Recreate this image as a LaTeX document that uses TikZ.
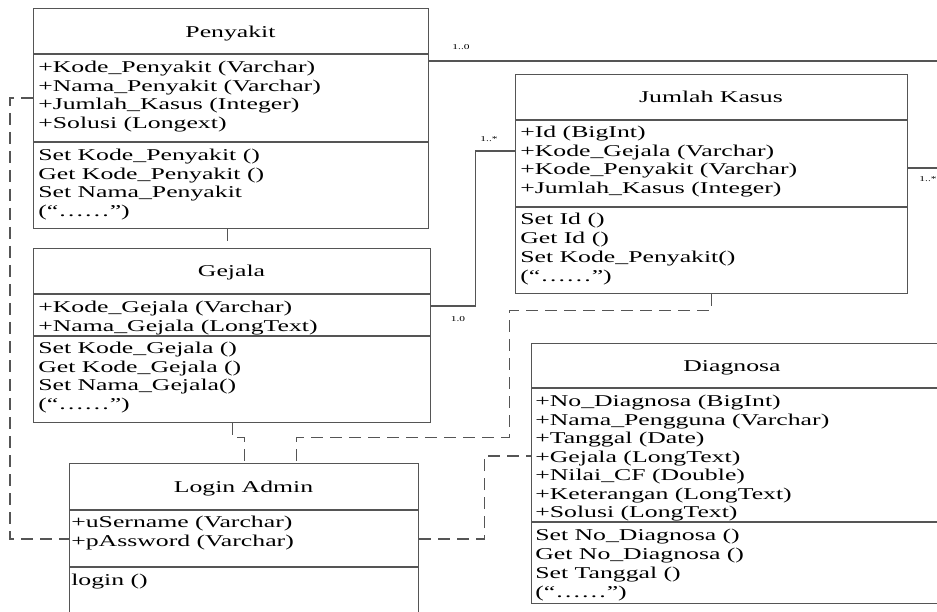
\documentclass[tikz,border=0pt]{standalone}
\usepackage{fontspec}
\setmainfont{Liberation Serif}
\usepackage{tikz}
\definecolor{umlline}{HTML}{555555}
\tikzset{
  classbox/.style={draw=umlline, line width=1.1pt, anchor=north west, inner sep=0pt},
  txt/.style={anchor=base west, inner sep=0pt, xscale=1.56, font=\fontsize{16.5}{18}\selectfont},
  ttl/.style={txt, anchor=base},
  mult/.style={anchor=base, inner sep=0pt, xscale=1.52, font=\fontsize{7.5}{8}\selectfont},
  assoc/.style={draw=umlline, line width=1.1pt},
  dep/.style={assoc, dash pattern=on 12pt off 7pt},
}

\begin{document}
\begin{tikzpicture}[x=1pt,y=-1pt]
	\useasboundingbox (0,0) rectangle (937,612);
	\clip (0,0) rectangle (937,612);

	% Penyakit
	\node[classbox, minimum width=395pt, minimum height=220pt] (penyakit) at (33,8) {};
	\draw[assoc] ([yshift=-46pt]penyakit.north west) -- ([yshift=-46pt]penyakit.north east);
	\draw[assoc] ([yshift=-134pt]penyakit.north west) -- ([yshift=-134pt]penyakit.north east);
	\node[ttl] (penyakitT) at (230.5,37.5) {Penyakit};
	\foreach \t [count=\i from 0] in {+Kode\_Penyakit (Varchar), +Nama\_Penyakit (Varchar), +Jumlah\_Kasus (Integer), +Solusi (Longext)}
		\node[txt] (pa\i) at (38,72.5+18.6*\i) {\t};
	\foreach \t [count=\i from 0] in {Set Kode\_Penyakit (), Get Kode\_Penyakit (), Set Nama\_Penyakit, {(“……”)}}
		\node[txt] (pm\i) at (38,160.5+18.6*\i) {\t};

	% Gejala
	\node[classbox, minimum width=397pt, minimum height=174pt] (gejala) at (33,248) {};
	\draw[assoc] ([yshift=-46pt]gejala.north west) -- ([yshift=-46pt]gejala.north east);
	\draw[assoc] ([yshift=-88pt]gejala.north west) -- ([yshift=-88pt]gejala.north east);
	\node[ttl] (gejalaT) at (231.5,276.5) {Gejala};
	\foreach \t [count=\i from 0] in {+Kode\_Gejala (Varchar), +Nama\_Gejala (LongText)}
		\node[txt] (ga\i) at (38,312.5+18.6*\i) {\t};
	\foreach \t [count=\i from 0] in {Set Kode\_Gejala (), Get Kode\_Gejala (), Set Nama\_Gejala(), {(“……”)}}
		\node[txt] (gm\i) at (38,353.5+18.6*\i) {\t};

	% Jumlah Kasus
	\node[classbox, minimum width=392pt, minimum height=219pt] (jumlah) at (515,74) {};
	\draw[assoc] ([yshift=-46pt]jumlah.north west) -- ([yshift=-46pt]jumlah.north east);
	\draw[assoc] ([yshift=-133pt]jumlah.north west) -- ([yshift=-133pt]jumlah.north east);
	\node[ttl] (jumlahT) at (711,102.5) {Jumlah Kasus};
	\foreach \t [count=\i from 0] in {+Id (BigInt), +Kode\_Gejala (Varchar), +Kode\_Penyakit (Varchar), +Jumlah\_Kasus (Integer)}
		\node[txt] (ja\i) at (520,137.5+18.6*\i) {\t};
	\foreach \t [count=\i from 0] in {Set Id (), Get Id (), Set Kode\_Penyakit(), {(“……”)}}
		\node[txt] (jm\i) at (520,224.5+18.9*\i) {\t};

	% Login Admin
	\node[classbox, minimum width=349pt, minimum height=210pt] (login) at (69,463) {};
	\draw[assoc] ([yshift=-47pt]login.north west) -- ([yshift=-47pt]login.north east);
	\draw[assoc] ([yshift=-104pt]login.north west) -- ([yshift=-104pt]login.north east);
	\node[ttl] (loginT) at (243.5,492.5) {Login Admin};
	\foreach \t [count=\i from 0] in {+uSername (Varchar), +pAssword (Varchar)}
		\node[txt] (la\i) at (71,527.5+18.6*\i) {\t};
	\node[txt] (lm0) at (71,585.5) {login ()};

	% Diagnosa
	\node[classbox, minimum width=412pt, minimum height=260pt] (diag) at (531,343) {};
	\draw[assoc] ([yshift=-45pt]diag.north west) -- ([yshift=-45pt]diag.north east);
	\draw[assoc] ([yshift=-179pt]diag.north west) -- ([yshift=-179pt]diag.north east);
	\node[ttl] (diagT) at (732,371.5) {Diagnosa};
	\foreach \t [count=\i from 0] in {+No\_Diagnosa (BigInt), +Nama\_Pengguna (Varchar), +Tanggal (Date), +Gejala (LongText), +Nilai\_CF (Double), +Keterangan (LongText), +Solusi (LongText)}
		\node[txt] (da\i) at (535,406.5+18.5*\i) {\t};
	\foreach \t [count=\i from 0] in {Set No\_Diagnosa (), Get No\_Diagnosa (), Set Tanggal (), {(“……”)}}
		\node[txt] (dm\i) at (535,540.5+18.9*\i) {\t};

	% associations
	\coordinate (outA) at (945,61);
	\coordinate (outB) at (945,168);
	\draw[assoc] ([yshift=-53pt]penyakit.north east) -- (outA);
	\draw[assoc] ([yshift=-94pt]jumlah.north east) -- (outB);
	\draw[assoc] ([yshift=-58pt]gejala.north east) -- ++(44,0) |- ([yshift=-77pt]jumlah.north west);
	\node[mult] (m1) at (461,50) {1..0};
	\node[mult] (m2) at (489,142) {1..*};
	\node[mult] (m3) at (458,321) {1.0};
	\node[mult] (m4) at (928,182) {1..*};

	% dependencies
	\draw[dep] ([yshift=-90pt]penyakit.north west) -- ++(-23,0) |- ([yshift=-76pt]login.north west);
	\draw[dep] ([xshift=-4pt]penyakit.south) -- ([xshift=-4pt]penyakit.south |- gejala.north);
	\draw[dep] (gejala.south) -- ++(0,14) -| (login.north);
	\draw[dep] (jumlah.south) -- ++(0,16) -- ++(-202,0) -- ++(0,127) -| ([xshift=52.5pt]login.north);
	\draw[dep] ([yshift=-76pt]login.north east) -- ++(65,0) |- ([yshift=-113pt]diag.north west);
\end{tikzpicture}
\end{document}
